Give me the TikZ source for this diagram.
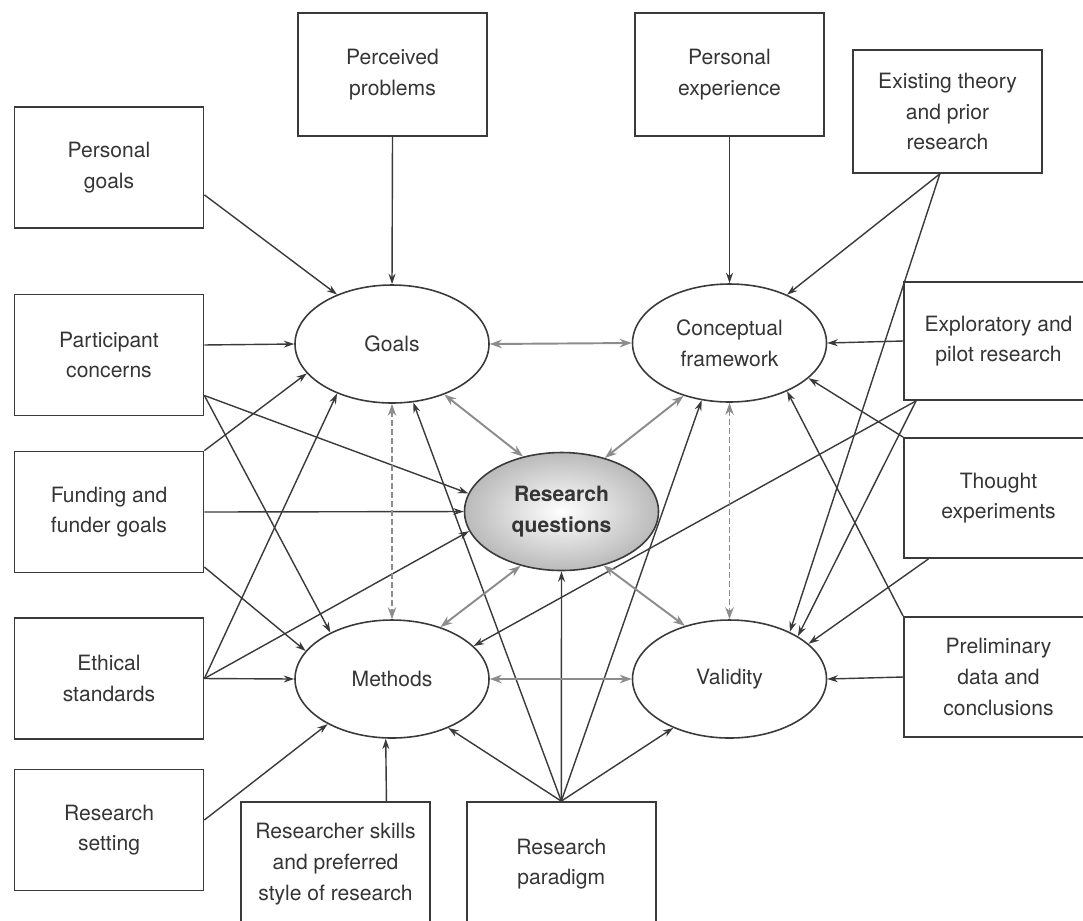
\documentclass[tikz,border=0pt]{standalone}
\usepackage{fontspec}
\setmainfont{TeX Gyre Heros}
\usepackage{tikz}
\usetikzlibrary{shapes.geometric,arrows.meta}
\definecolor{InkDark}{HTML}{3A3A3A}
\definecolor{InkGrey}{HTML}{8C8C8C}
\definecolor{TextDark}{HTML}{353535}

\begin{document}
\begin{tikzpicture}[x=0.2mm, y=-0.2mm,
  every node/.style={text=TextDark, font=\fontsize{12}{17.5}\selectfont, align=center, inner sep=0pt},
  box/.style={draw=InkDark, line width=1pt, minimum width=37.8mm, minimum height=24.2mm},
  oval/.style={ellipse, draw=InkDark, line width=0.9pt, minimum width=38.8mm, minimum height=23.6mm},
  arr/.style={draw=InkDark, line width=0.8pt, -{Stealth[length=2.1mm,width=1.4mm]}},
  garr/.style={draw=InkGrey, line width=1.1pt, {Stealth[length=2.4mm,width=1.7mm]}-{Stealth[length=2.4mm,width=1.7mm]}},
  darr/.style={garr, line width=0.9pt, dash pattern=on 1.1mm off 0.7mm}]
  \useasboundingbox (0,0) rectangle (1083,920);

  %% left column
  \node[box] (pgoals) at (109,167.5) {Personal\\goals};
  \node[box] (pcon) at (109,355) {Participant\\concerns};
  \node[box] (fund) at (109,512) {Funding and\\funder goals};
  \node[box] (ethic) at (109,678.5) {Ethical\\standards};
  \node[box] (rset) at (109,830) {Research\\setting};
  %% top row
  \node[box, minimum height=24.6mm] (pprob) at (392.5,74.5) {Perceived\\problems};
  \node[box, minimum height=24.6mm] (pexp) at (729.5,74.5) {Personal\\experience};
  \node[box, minimum height=24.6mm] (theory) at (947.5,111.5) {Existing theory\\and prior\\research};
  %% right column
  \node[box, minimum height=23.6mm] (explor) at (998.5,341) {Exploratory and\\pilot research};
  \node[box, minimum height=24mm] (thought) at (998.5,498) {Thought\\experiments};
  \node[box, minimum height=24mm] (prelim) at (998.5,677) {Preliminary\\data and\\conclusions};
  %% bottom row
  \node[box, minimum height=24.8mm] (rskill) at (335.5,864) {Researcher skills\\and preferred\\style of research};
  \node[box, minimum height=24.8mm] (rpar) at (561.3,864) {Research\\paradigm};

  %% the five components
  \node[oval] (goals) at (392,344) {Goals};
  \node[oval] (cf) at (729.5,343) {Conceptual\\framework};
  \node[oval] (methods) at (392,679) {Methods};
  \node[oval] (valid) at (729.5,679) {Validity};
  \node[oval, inner color=white, outer color=black!27, font=\fontsize{12}{17.5}\selectfont\bfseries] (rq) at (561.5,511.5) {Research\\questions};

  %% into goals
  \draw[arr] (pprob.south) -- (goals.north);
  \draw[arr] (pgoals.-16) -- (goals.138);
  \draw[arr] (pcon.6) -- (goals.180);
  \draw[arr] (fund.north east) -- (goals.199);
  \draw[arr] (ethic.east) -- (goals.222);
  \draw[arr] (rpar.north) -- (goals.290);
  %% into research questions
  \draw[arr] (pcon.-23) -- (rq.169);
  \draw[arr] (fund.east) -- (rq.west);
  \draw[arr] (ethic.east) -- (rq.192);
  \draw[arr] (rpar.north) -- (rq.south);
  %% into methods
  \draw[arr] (pcon.-23) -- (methods.143);
  \draw[arr] (fund.-30) -- (methods.162);
  \draw[arr] (ethic.east) -- (methods.west);
  \draw[arr] (rset.6) -- (methods.215);
  \draw[arr] (rskill.51) -- (methods.264);
  \draw[arr] (rpar.north) -- (methods.-41);
  \draw[arr] (explor.216) -- (methods.22);
  %% into conceptual framework
  \draw[arr] (pexp.south) -- (cf.north);
  \draw[arr] (theory.263) -- (cf.40);
  \draw[arr] (explor.west) -- (cf.east);
  \draw[arr] (thought.north west) -- (cf.-24);
  \draw[arr] (prelim.north west) -- (cf.-40);
  \draw[arr] (rpar.north) -- (cf.244);
  %% into validity
  \draw[arr] (theory.263) -- (valid.38);
  \draw[arr] (explor.216) -- (valid.32);
  \draw[arr] (thought.221) -- (valid.24);
  \draw[arr] (prelim.west) -- (valid.east);
  \draw[arr] (rpar.north) -- (valid.221);

  %% links between the components
  \draw[garr] (goals.east) -- (cf.west);
  \draw[garr] (methods.east) -- (valid.west);
  \draw[garr] (goals.316) -- (rq.125);
  \draw[garr] (cf.229) -- (rq.51);
  \draw[garr] (rq.233) -- (methods.47);
  \draw[garr] (rq.308) -- (valid.130);
  \draw[darr] (goals.south) -- (methods.north);
  \draw[darr] (cf.south) -- (valid.north);
\end{tikzpicture}
\end{document}
